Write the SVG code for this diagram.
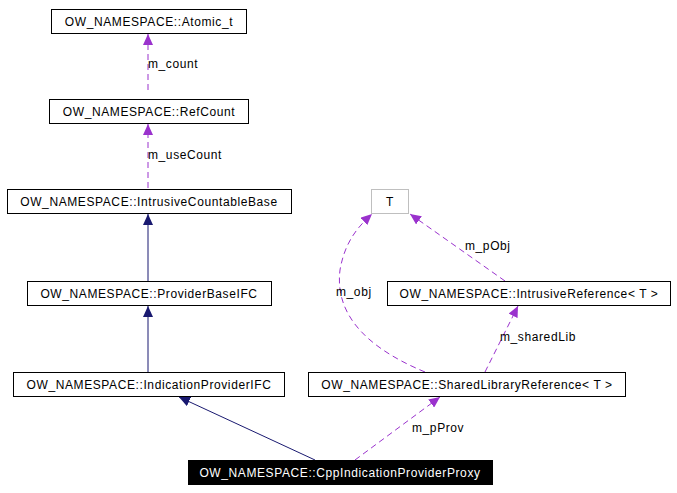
<svg xmlns="http://www.w3.org/2000/svg" width="677" height="493" viewBox="0 0 677 493">
<style>
text{font-family:"Liberation Sans",Arial,sans-serif;font-size:12px;letter-spacing:0.6px;fill:#000}
.n rect{fill:#fff;stroke:#000;stroke-width:1}
.lbl{text-anchor:middle}
.d{fill:none;stroke:#9a32cd;stroke-width:1;stroke-dasharray:6,4}
.s{fill:none;stroke:#191970;stroke-width:1}
</style>
<defs>
<marker id="ap" markerWidth="12" markerHeight="10" refX="11" refY="5" orient="auto" markerUnits="userSpaceOnUse"><path d="M0,0 L11,5 L0,10 z" fill="#9a32cd"/></marker>
<marker id="an" markerWidth="12" markerHeight="10" refX="11" refY="5" orient="auto" markerUnits="userSpaceOnUse"><path d="M0,0 L11,5 L0,10 z" fill="#191970"/></marker>
</defs>
<rect width="677" height="493" fill="#fff"/>
<g id="connectors">
<path class="d" d="M148,90 L148,34" marker-end="url(#ap)"/>
<text x="148" y="68">m_count</text>
<path class="d" d="M148,188 L148,124" marker-end="url(#ap)"/>
<text x="148" y="159">m_useCount</text>
<path class="s" d="M148,281 L148,214" marker-end="url(#an)"/>
<path class="s" d="M148,372 L148,306" marker-end="url(#an)"/>
<path class="s" d="M315,460 L179,397" marker-end="url(#an)"/>
<path class="d" d="M355,460 L440,397" marker-end="url(#ap)"/>
<text x="412" y="432">m_pProv</text>
<path class="d" d="M505,281 L410,214" marker-end="url(#ap)"/>
<text x="465" y="250">m_pObj</text>
<path class="d" d="M425,372 C360,345 335,310 340,270 C345,240 360,225 372,214" marker-end="url(#ap)"/>
<text x="336" y="296">m_obj</text>
<path class="d" d="M485,372 L518,306" marker-end="url(#ap)"/>
<text x="500" y="341">m_sharedLib</text>
</g>
<g id="atomic" class="n"><rect x="51.5" y="9.5" width="195" height="24"/><text class="lbl" x="149" y="26">OW_NAMESPACE::Atomic_t</text></g>
<g id="refcount" class="n"><rect x="49.5" y="99.5" width="199" height="24"/><text class="lbl" x="149" y="116">OW_NAMESPACE::RefCount</text></g>
<g id="icb" class="n"><rect x="7.5" y="189.5" width="284" height="24"/><text class="lbl" x="149" y="206">OW_NAMESPACE::IntrusiveCountableBase</text></g>
<g id="pbifc" class="n"><rect x="27.5" y="281.5" width="244" height="24"/><text class="lbl" x="149" y="298">OW_NAMESPACE::ProviderBaseIFC</text></g>
<g id="ipifc" class="n"><rect x="13.5" y="372.5" width="271" height="24"/><text class="lbl" x="149" y="389">OW_NAMESPACE::IndicationProviderIFC</text></g>
<g id="cpp"><rect x="188" y="460" width="305" height="25" fill="#000"/><text class="lbl" x="340" y="477" style="fill:#fff">OW_NAMESPACE::CppIndicationProviderProxy</text></g>
<g id="t"><rect x="371.5" y="189.5" width="37" height="24" fill="#fff" stroke="#bfbfbf"/><text class="lbl" x="390" y="206">T</text></g>
<g id="iref" class="n"><rect x="387.5" y="281.5" width="283" height="24"/><text class="lbl" x="529" y="298">OW_NAMESPACE::IntrusiveReference&lt; T &gt;</text></g>
<g id="slref" class="n"><rect x="308.5" y="372.5" width="317" height="24"/><text class="lbl" x="467" y="389">OW_NAMESPACE::SharedLibraryReference&lt; T &gt;</text></g>
</svg>
